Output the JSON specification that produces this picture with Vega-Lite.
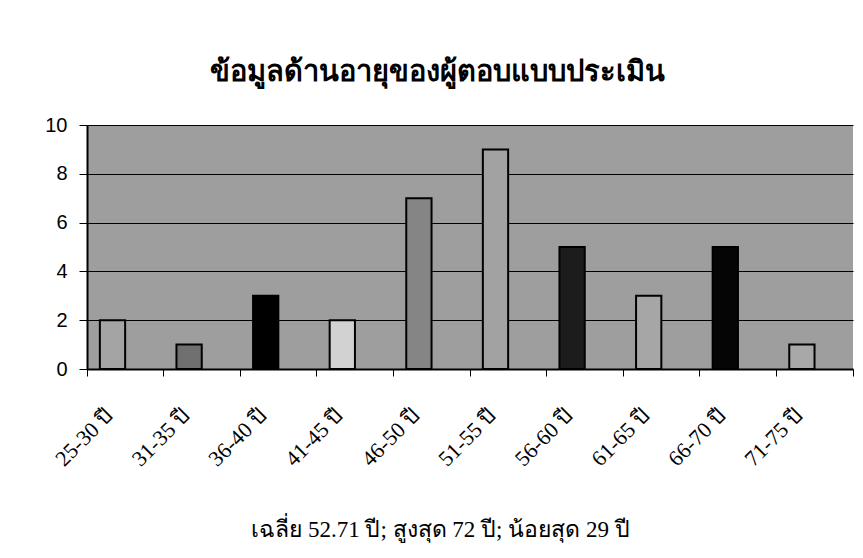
{
  "$schema": "https://vega.github.io/schema/vega-lite/v6.json",
  "width": 766,
  "height": 244,
  "autosize": "none",
  "padding": {"left": 87, "top": 125, "right": 10, "bottom": 189},
  "background": "white",
  "title": {
    "text": "ข้อมูลด้านอายุของผู้ตอบแบบประเมิน",
    "fontSize": 29,
    "font": "DejaVu Sans Condensed, DejaVu Sans, sans-serif",
    "fontWeight": "bold",
    "color": "black",
    "anchor": "middle",
    "dx": -33,
    "offset": 28
  },
  "config": {
    "view": {"fill": "#9e9e9e", "stroke": null}
  },
  "data": {
    "values": [
      {"age": "25-30 ปี", "count": 2},
      {"age": "31-35 ปี", "count": 1},
      {"age": "36-40 ปี", "count": 3},
      {"age": "41-45 ปี", "count": 2},
      {"age": "46-50 ปี", "count": 7},
      {"age": "51-55 ปี", "count": 9},
      {"age": "56-60 ปี", "count": 5},
      {"age": "61-65 ปี", "count": 3},
      {"age": "66-70 ปี", "count": 5},
      {"age": "71-75 ปี", "count": 1}
    ]
  },
  "mark": {
    "type": "bar",
    "stroke": "black",
    "strokeWidth": 2,
    "width": {"band": 0.33},
    "xOffset": -12.8
  },
  "encoding": {
    "x": {
      "field": "age",
      "type": "nominal",
      "sort": null,
      "scale": {"paddingInner": 0, "paddingOuter": 0},
      "axis": {
        "title": "เฉลี่ย 52.71 ปี; สูงสุด 72 ปี; น้อยสุด 29 ปี",
        "titleFont": "Liberation Serif, DejaVu Serif, serif",
        "titleFontSize": 23,
        "titleFontWeight": "normal",
        "titleColor": "black",
        "titleX": 353,
        "titleY": 167,
        "titleAlign": "center",
        "titleBaseline": "alphabetic",
        "labelAngle": -45,
        "labelAlign": "right",
        "labelBaseline": "middle",
        "labelFont": "Liberation Serif, DejaVu Serif, serif",
        "labelFontSize": 22,
        "labelColor": "black",
        "labelPadding": 36,
        "labelOffset": -16,
        "labelOverlap": false,
        "labelBound": false,
        "bandPosition": 1,
        "tickExtra": true,
        "tickSize": 7,
        "tickColor": "black",
        "tickWidth": 1,
        "domainColor": "black",
        "domainWidth": 2,
        "grid": false
      }
    },
    "y": {
      "field": "count",
      "type": "quantitative",
      "scale": {"domain": [0, 10]},
      "axis": {
        "title": null,
        "values": [0, 2, 4, 6, 8, 10],
        "grid": true,
        "gridColor": "black",
        "gridWidth": 1,
        "gridOpacity": 1,
        "domainColor": "black",
        "domainWidth": 2,
        "tickColor": "black",
        "tickSize": 8,
        "labelFont": "Liberation Sans, Arial, sans-serif",
        "labelFontSize": 20,
        "labelColor": "black",
        "labelPadding": 12
      }
    },
    "fill": {
      "field": "age",
      "type": "nominal",
      "legend": null,
      "scale": {
        "domain": ["25-30 ปี", "31-35 ปี", "36-40 ปี", "41-45 ปี", "46-50 ปี", "51-55 ปี", "56-60 ปี", "61-65 ปี", "66-70 ปี", "71-75 ปี"],
        "range": ["#a4a4a4", "#707070", "#000000", "#d2d2d2", "#858585", "#a2a2a2", "#1c1c1c", "#a6a6a6", "#050505", "#a8a8a8"]
      }
    }
  }
}
